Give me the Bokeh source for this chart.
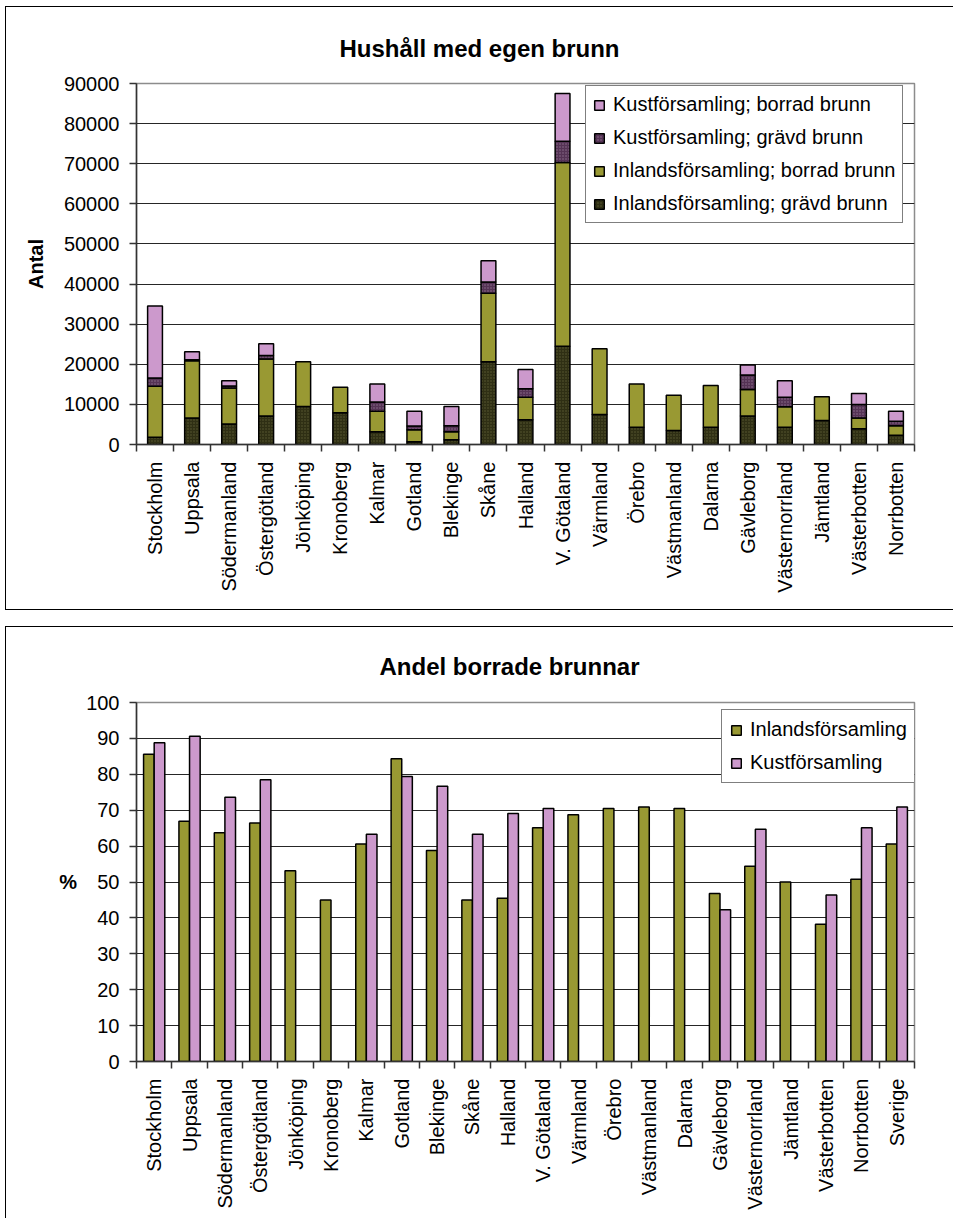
import math
import numpy as np
from bokeh.plotting import figure
from bokeh.models import (FixedTicker, Legend, LegendItem, NumeralTickFormatter,
                          Title, ColumnDataSource, CustomJSTickFormatter)
from bokeh.layouts import column
from bokeh.embed import file_html
from bokeh.resources import INLINE

FONT = "Liberation Sans"

# ---------------- data ----------------
regions = ["Stockholm", "Uppsala", "Södermanland", "Östergötland", "Jönköping",
           "Kronoberg", "Kalmar", "Gotland", "Blekinge", "Skåne", "Halland",
           "V. Götaland", "Värmland", "Örebro", "Västmanland", "Dalarna",
           "Gävleborg", "Västernorrland", "Jämtland", "Västerbotten", "Norrbotten"]

inland_gravd = [1800, 6600, 5100, 7100, 9500, 7900, 3200, 700, 1200, 20600, 6200,
                24500, 7500, 4300, 3500, 4300, 7100, 4300, 6000, 3900, 2300]
inland_borrad = [12700, 14300, 9000, 14200, 11100, 6400, 5100, 3000, 2000, 17100, 5600,
                 45800, 16400, 10800, 8800, 10400, 6600, 5100, 5900, 2700, 2400]
kust_gravd = [2100, 200, 500, 900, 0, 0, 2300, 900, 1500, 2800, 2100,
              5300, 0, 0, 0, 0, 3600, 2400, 0, 3400, 1100]
kust_borrad = [17900, 2000, 1300, 2900, 0, 0, 4500, 3700, 4800, 5300, 4800,
               11900, 0, 0, 0, 0, 2500, 4100, 0, 2700, 2500]

regions_pct = regions + ["Sverige"]
nan = float("nan")
inland_pct = [85.6, 66.9, 63.7, 66.4, 53.1, 45.0, 60.6, 84.3, 58.8, 45.0, 45.5,
              65.1, 68.7, 70.5, 70.9, 70.5, 46.8, 54.4, 50.0, 38.2, 50.8, 60.6]
kust_pct = [88.8, 90.6, 73.6, 78.5, nan, nan, 63.3, 79.4, 76.7, 63.3, 69.1,
            70.5, nan, nan, nan, nan, 42.3, 64.7, nan, 46.4, 65.1, 70.9]

y1_ticks = list(range(0, 90001, 10000))
y2_ticks = list(range(0, 101, 10))

OLIVE = "#999933"
PINK = "#cc99cc"
DARK_OLIVE = "#2f2f14"
DARK_PURPLE = "#553355"


def style_axes(p, xnames, n):
    centers = [i + 0.5 for i in range(n)]
    p.xaxis.ticker = FixedTicker(ticks=centers, minor_ticks=list(range(0, n + 1)))
    p.xaxis.formatter = CustomJSTickFormatter(args=dict(names=xnames),
                                              code="return names[Math.floor(tick)] || ''")
    p.xaxis.major_tick_out = 0
    p.xaxis.major_tick_in = 0
    p.xaxis.minor_tick_out = 7
    p.xaxis.minor_tick_in = 0
    p.xaxis.minor_tick_line_color = "#333333"
    p.xaxis.minor_tick_line_width = 1.5
    p.xaxis.major_label_orientation = math.pi / 2
    p.xaxis.major_label_standoff = 10
    for ax in (p.xaxis, p.yaxis):
        ax.axis_line_color = "#333333"
        ax.axis_line_width = 1.5
        ax.major_label_text_font = FONT
        ax.major_label_text_font_size = "20px"
        ax.major_label_text_color = "black"
        ax.axis_label_text_font = FONT
        ax.axis_label_text_font_size = "20px"
        ax.axis_label_text_font_style = "bold"
        ax.axis_label_text_color = "black"
    p.yaxis.major_tick_out = 7
    p.yaxis.major_tick_in = 0
    p.yaxis.minor_tick_line_color = None
    p.yaxis.major_tick_line_color = "#333333"
    p.yaxis.major_tick_line_width = 1.5
    p.yaxis.major_label_standoff = 10
    p.xgrid.grid_line_color = None
    p.ygrid.grid_line_color = "black"
    p.ygrid.grid_line_width = 1
    p.ygrid.grid_line_alpha = 0.85
    p.outline_line_color = "#8c8c8c"
    p.outline_line_width = 1.5
    p.background_fill_color = "white"
    p.border_fill_color = "white"


def style_legend(lg, label_width):
    lg.border_line_color = "black"
    lg.border_line_width = 1
    lg.background_fill_color = "white"
    lg.background_fill_alpha = 1
    lg.label_text_font = FONT
    lg.label_text_font_size = "20px"
    lg.label_text_color = "black"
    lg.glyph_width = 12
    lg.glyph_height = 12
    lg.label_standoff = 8
    lg.label_height = 20
    lg.label_width = label_width
    lg.spacing = 10
    lg.padding = 7
    lg.margin = 0


def add_title(p, text, offset, standoff):
    p.add_layout(Title(text=text, align="left", offset=offset,
                       text_font=FONT, text_font_size="24px", text_font_style="bold",
                       text_color="black", standoff=standoff), "above")


# ---------------- chart 1 ----------------
n1 = len(regions)
p1 = figure(width=948, height=604, x_range=(0, n1), y_range=(0, 90000),
            output_backend="svg", toolbar_location=None,
            min_border_left=130, min_border_right=40, min_border_top=76, min_border_bottom=167)
p1.margin = (6, 0, 0, 5)
p1.styles = {"border-top": "1px solid black", "border-left": "1px solid black",
             "border-bottom": "1px solid black", "box-sizing": "border-box"}
add_title(p1, "Hushåll med egen brunn", 203, 43)
style_axes(p1, regions, n1)
p1.yaxis.ticker = FixedTicker(ticks=y1_ticks)
p1.ygrid.ticker = FixedTicker(ticks=y1_ticks)
p1.yaxis.formatter = NumeralTickFormatter(format="0")
p1.yaxis.axis_label = "Antal"
p1.yaxis.axis_label_standoff = 14

xs1 = np.arange(n1) + 0.5
layers = [
    ("Inlandsförsamling; grävd brunn", inland_gravd, DARK_OLIVE, "#5c5c33"),
    ("Inlandsförsamling; borrad brunn", inland_borrad, OLIVE, None),
    ("Kustförsamling; grävd brunn", kust_gravd, DARK_PURPLE, "#8f6f8f"),
    ("Kustförsamling; borrad brunn", kust_borrad, PINK, None),
]
base = np.zeros(n1)
renderers = {}
for name, vals, col, hcol in layers:
    v = np.array(vals, dtype=float)
    bottom = base.copy()
    top = base + v
    mask = v <= 0
    b = np.where(mask, np.nan, bottom)
    t = np.where(mask, np.nan, top)
    src = ColumnDataSource(dict(x=xs1, bottom=b, top=t))
    kw = {}
    if hcol:
        kw = dict(hatch_pattern="dot", hatch_color=hcol, hatch_scale=3, hatch_weight=1)
    r = p1.vbar(x="x", bottom="bottom", top="top", width=0.4, source=src,
                fill_color=col, line_color="black", line_width=1.5, **kw)
    renderers[name] = r
    base = top

leg1 = Legend(items=[LegendItem(label=nm, renderers=[renderers[nm]]) for nm in
                     ["Kustförsamling; borrad brunn", "Kustförsamling; grävd brunn",
                      "Inlandsförsamling; borrad brunn", "Inlandsförsamling; grävd brunn"]],
              location=(449, 221))
style_legend(leg1, 280)
p1.add_layout(leg1)

# ---------------- chart 2 ----------------
n2 = len(regions_pct)
p2 = figure(width=948, height=592, x_range=(0, n2), y_range=(0, 100),
            output_backend="svg", toolbar_location=None,
            min_border_left=115, min_border_right=22, min_border_top=74, min_border_bottom=158)
p2.margin = (16, 0, 0, 5)
p2.styles = {"border-top": "1px solid black", "border-left": "1px solid black",
             "box-sizing": "border-box"}
add_title(p2, "Andel borrade brunnar", 243, 46)
style_axes(p2, regions_pct, n2)
p2.yaxis.ticker = FixedTicker(ticks=y2_ticks)
p2.ygrid.ticker = FixedTicker(ticks=y2_ticks)
p2.yaxis.axis_label = "%"
p2.yaxis.axis_label_orientation = "horizontal"
p2.yaxis.axis_label_standoff = 6

xs2 = np.arange(n2) + 0.5
bw = 0.3
src_in = ColumnDataSource(dict(x=xs2 - bw / 2, top=inland_pct))
src_ku = ColumnDataSource(dict(x=xs2 + bw / 2, top=kust_pct))
r_in = p2.vbar(x="x", top="top", bottom=0, width=bw, source=src_in,
               fill_color=OLIVE, line_color="black", line_width=1.5)
r_ku = p2.vbar(x="x", top="top", bottom=0, width=bw, source=src_ku,
               fill_color=PINK, line_color="black", line_width=1.5)
leg2 = Legend(items=[LegendItem(label="Inlandsförsamling", renderers=[r_in]),
                     LegendItem(label="Kustförsamling", renderers=[r_ku])],
              location=(585, 278))
style_legend(leg2, 185)
leg2.padding = 8
p2.add_layout(leg2)

layout = column(p1, p2, spacing=0)
open("out.html", "w").write(file_html(layout, INLINE))
